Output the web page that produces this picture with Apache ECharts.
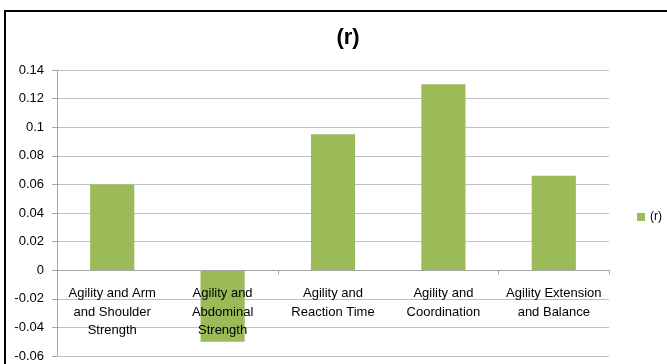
<!DOCTYPE html>
<html>
<head>
<meta charset="utf-8">
<script src="https://cdn.jsdelivr.net/npm/echarts@6/dist/echarts.min.js"></script>
<style>
  html, body { margin: 0; padding: 0; background: #fff; }
  #chart { width: 667px; height: 364px; }
</style>
</head>
<body>
<div id="chart"></div>
<script>
// Correlation of agility with other fitness components
const categories = [
  'Agility and Arm\nand Shoulder\nStrength',
  'Agility and\nAbdominal\nStrength',
  'Agility and\nReaction Time',
  'Agility and\nCoordination',
  'Agility Extension\nand Balance'
];
const seriesName = '(r)';
const rValues = [0.06, -0.05, 0.095, 0.13, 0.066];
const yMin = -0.06;
const yMax = 0.14;
const yStep = 0.02;

const font = 'Liberation Sans, Arial, sans-serif';
const gridTop = 70;
const gridBottom = 8;
const chartHeight = 364;

const chart = echarts.init(document.getElementById('chart'));

// Distance (px) from the bottom of the plot to the zero line, so the
// category labels can sit directly beneath the zero baseline.
const plotHeight = chartHeight - gridTop - gridBottom;
const zeroLift = plotHeight * (0 - yMin) / (yMax - yMin);

chart.setOption({
  animation: false,
  backgroundColor: '#ffffff',
  title: {
    text: seriesName,
    left: 343,
    textAlign: 'center',
    top: 22,
    textStyle: { fontFamily: font, fontSize: 22, fontWeight: 'bold', color: '#000' }
  },
  legend: {
    data: [seriesName],
    left: 632,
    top: 206,
    itemWidth: 8,
    itemHeight: 8,
    itemGap: 4,
    icon: 'rect',
    textStyle: { fontFamily: font, fontSize: 12, color: '#000' }
  },
  grid: {
    left: 57, right: 58, top: gridTop, bottom: gridBottom,
    containLabel: false,
    outerBoundsMode: 'none'
  },
  xAxis: [{
    type: 'category',
    data: categories,
    axisLine: { onZero: true, lineStyle: { color: '#a6a6a6', width: 1 } },
    axisTick: { show: true, length: 4, alignWithLabel: false, lineStyle: { color: '#a6a6a6' } },
    axisLabel: { show: false },
    z: 3
  }, {
    type: 'category',
    data: categories,
    position: 'bottom',
    offset: -zeroLift,
    axisLine: { show: false, onZero: false },
    axisTick: { show: false },
    axisLabel: {
      interval: 0,
      margin: 14,
      fontFamily: font,
      fontSize: 13,
      lineHeight: 18.5,
      color: '#000'
    },
    z: 4
  }],
  yAxis: {
    type: 'value',
    min: yMin,
    max: yMax,
    interval: yStep,
    axisLine: { show: true, lineStyle: { color: '#a6a6a6' } },
    axisTick: { show: true, length: 5, lineStyle: { color: '#a6a6a6' } },
    axisLabel: { fontFamily: font, fontSize: 13, color: '#000', margin: 13 },
    splitLine: { lineStyle: { color: '#bfbfbf', width: 1 } }
  },
  series: [{
    name: seriesName,
    type: 'bar',
    xAxisIndex: 0,
    data: rValues,
    barCategoryGap: '60%',
    itemStyle: { color: '#9bbb59' },
    z: 2
  }],
  graphic: [{
    type: 'rect',
    shape: { x: 5, y: 11, width: 700, height: 400 },
    style: { fill: 'none', stroke: '#000', lineWidth: 2 },
    z: 10
  }]
});
</script>
</body>
</html>
